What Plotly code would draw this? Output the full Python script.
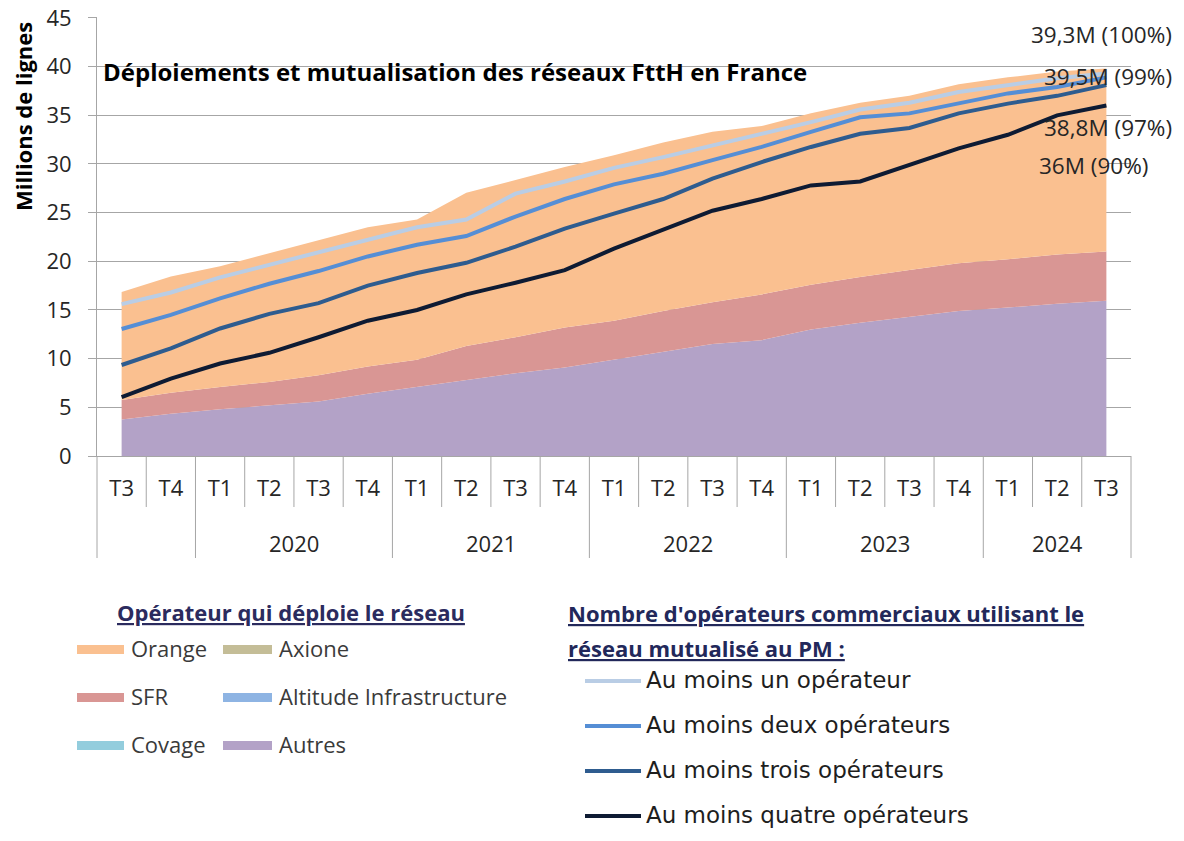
import plotly.graph_objects as go

# ---------------- data (millions de lignes) ----------------
quarters = ["T3", "T4", "T1", "T2", "T3", "T4", "T1", "T2", "T3", "T4",
            "T1", "T2", "T3", "T4", "T1", "T2", "T3", "T4", "T1", "T2", "T3"]
year_of_quarter = ["", "",
                   "2020", "2020", "2020", "2020",
                   "2021", "2021", "2021", "2021",
                   "2022", "2022", "2022", "2022",
                   "2023", "2023", "2023", "2023",
                   "2024", "2024", "2024"]

# Stacked deployment per operator (bottom to top)
autres = [3.75, 4.35, 4.8, 5.2, 5.6, 6.4, 7.1, 7.8, 8.5, 9.1, 9.9,
          10.75, 11.5, 11.9, 13.0, 13.7, 14.3, 14.9, 15.25, 15.65, 15.95]
sfr = [2.0, 2.15, 2.3, 2.4, 2.7, 2.8, 2.8, 3.5, 3.7, 4.1, 4.0,
       4.15, 4.3, 4.7, 4.6, 4.7, 4.8, 4.9, 4.95, 5.05, 5.05]
orange = [11.1, 11.95, 12.4, 13.25, 13.9, 14.3, 14.4, 15.75, 16.15, 16.5, 17.0,
          17.3, 17.5, 17.3, 17.6, 17.9, 17.9, 18.4, 18.7, 18.8, 18.8]

# Mutualisation lines
au_moins_un = [15.6, 16.8, 18.35, 19.65, 20.85, 22.2, 23.5, 24.3, 26.95, 28.2, 29.6,
               30.7, 31.9, 33.0, 34.3, 35.6, 36.3, 37.4, 38.1, 38.8, 39.3]
au_moins_deux = [13.05, 14.5, 16.2, 17.7, 19.0, 20.5, 21.7, 22.6, 24.6, 26.4, 27.9,
                 29.0, 30.4, 31.75, 33.3, 34.8, 35.2, 36.2, 37.25, 37.9, 38.9]
au_moins_trois = [9.35, 11.05, 13.1, 14.6, 15.7, 17.5, 18.8, 19.85, 21.5, 23.35, 24.9,
                  26.4, 28.5, 30.2, 31.75, 33.1, 33.7, 35.2, 36.2, 37.0, 38.1]
au_moins_quatre = [6.05, 7.95, 9.5, 10.6, 12.2, 13.9, 15.0, 16.6, 17.8, 19.1, 21.3,
                   23.3, 25.2, 26.4, 27.8, 28.2, 29.9, 31.6, 33.0, 35.0, 36.0]

end_labels = ["39,3M (100%)", "39,5M (99%)", "38,8M (97%)", "36M (90%)"]

title_text = "Déploiements et mutualisation des réseaux FttH en France"
y_title = "Millions de lignes"

legend1_title = "Opérateur qui déploie le réseau"
legend1_items = ["Orange", "SFR", "Covage", "Axione", "Altitude Infrastructure", "Autres"]
legend2_title = ["Nombre d'opérateurs commerciaux utilisant le", "réseau mutualisé au PM :"]
legend2_items = ["Au moins un opérateur", "Au moins deux opérateurs",
                 "Au moins trois opérateurs", "Au moins quatre opérateurs"]

# ---------------- styling ----------------
C_ORANGE = "#FAC090"
C_SFR = "#D99694"
C_COVAGE = "#93CDDD"
C_AXIONE = "#C4BD97"
C_ALTITUDE = "#8EB4E3"
C_AUTRES = "#B3A2C7"
legend1_colors = [C_ORANGE, C_SFR, C_COVAGE, C_AXIONE, C_ALTITUDE, C_AUTRES]

L_UN = "#B9CDE5"
L_DEUX = "#558ED5"
L_TROIS = "#2E5C8F"
L_QUATRE = "#0E1B33"
legend2_colors = [L_UN, L_DEUX, L_TROIS, L_QUATRE]

GRID = "#A6A6A6"
TXT = "#262626"
FONT = "Open Sans"
FONT_B = "Open Sans"

Y_MAX = 45
Y_PAD = 0.1   # tiny headroom so the top gridline (45) is drawn

# figure fills the whole 1184x841 page (body margin removed in post_script)
W, H = 1184, 841
PLOT_L, PLOT_R, PLOT_B = 97, 1131, 456          # in page pixels
UNIT = (456 - 18) / Y_MAX                        # px per million
PLOT_T = PLOT_B - UNIT * (Y_MAX + Y_PAD)
ML, MR = PLOT_L, W - PLOT_R
MT, MB = PLOT_T, H - PLOT_B
PW = PLOT_R - PLOT_L
PH = PLOT_B - PLOT_T


def px(x):
    return (x - PLOT_L) / PW


def py(y):
    return (PLOT_B - y) / PH


n = len(quarters)
x = list(range(n))

fig = go.Figure()

for name, vals, col in [("Autres", autres, C_AUTRES), ("SFR", sfr, C_SFR), ("Orange", orange, C_ORANGE)]:
    fig.add_trace(go.Scatter(x=x, y=vals, name=name, stackgroup="ops", mode="lines",
                             line=dict(width=0, color=col), fillcolor=col, showlegend=False))

for name, vals, col in zip(legend2_items,
                           [au_moins_un, au_moins_deux, au_moins_trois, au_moins_quatre],
                           legend2_colors):
    fig.add_trace(go.Scatter(x=x, y=vals, name=name, mode="lines",
                             line=dict(width=4, color=col), showlegend=False))

shapes = []
annotations = []

# category separators and year group separators
bounds = set()
for i in range(n + 1):
    if i == 0 or i == n or year_of_quarter[i] != year_of_quarter[i - 1]:
        bounds.add(i)
for i in range(n + 1):
    xp = i / n
    y1 = py(558) if i in bounds else py(507)
    shapes.append(dict(type="line", xref="paper", yref="paper", x0=xp, x1=xp, y0=0, y1=y1,
                       line=dict(color=GRID, width=1)))

# year labels
start = 0
for i in range(1, n + 1):
    if i == n or year_of_quarter[i] != year_of_quarter[start]:
        if year_of_quarter[start]:
            annotations.append(dict(text=year_of_quarter[start], xref="x", yref="paper",
                                    x=(start + i - 1) / 2, y=py(543), showarrow=False,
                                    xanchor="center", yanchor="middle",
                                    font=dict(family=FONT, size=22, color=TXT)))
        start = i

# chart title
annotations.append(dict(text="<b>" + title_text + "</b>", xref="paper", yref="paper",
                        x=px(101), y=py(72), xanchor="left", yanchor="middle", showarrow=False,
                        font=dict(family=FONT_B, size=24, color="#000000")))
# y axis title
annotations.append(dict(text="<b>" + y_title + "</b>", xref="paper", yref="paper",
                        x=px(23), y=py(117), xanchor="center", yanchor="middle", showarrow=False,
                        textangle=-90, font=dict(family=FONT_B, size=22, color="#000000")))

# end labels
for txt, (xr, yc) in zip(end_labels, [(1174, 35), (1174, 77), (1174, 128), (1150, 166)]):
    annotations.append(dict(text=txt, xref="paper", yref="paper", x=px(xr), y=py(yc),
                            xanchor="right", yanchor="middle", showarrow=False,
                            font=dict(family=FONT, size=22.5, color=TXT)))

# legend 1
annotations.append(dict(text="<b><u>" + legend1_title + "</u></b>", xref="paper", yref="paper",
                        x=px(291), y=py(612), xanchor="center", yanchor="middle", showarrow=False,
                        font=dict(family=FONT_B, size=22, color="#2B2B5E")))
rows_y = [649, 697, 745]
for k, (lab, col) in enumerate(zip(legend1_items, legend1_colors)):
    col_i, row_i = divmod(k, 3)
    sx0, sx1, tx = (77, 124, 129) if col_i == 0 else (223, 272, 277)
    yc = rows_y[row_i]
    shapes.append(dict(type="rect", xref="paper", yref="paper", x0=px(sx0), x1=px(sx1),
                       y0=py(yc + 5), y1=py(yc - 4), fillcolor=col, line=dict(width=0)))
    annotations.append(dict(text=lab, xref="paper", yref="paper", x=px(tx), y=py(yc - 1),
                            xanchor="left", yanchor="middle", showarrow=False,
                            font=dict(family=FONT, size=22, color="#3A3A3A")))

# legend 2
for j, line in enumerate(legend2_title):
    annotations.append(dict(text="<b><u>" + line + "</u></b>", xref="paper", yref="paper",
                            x=px(566), y=py(613 + 35 * j), xanchor="left", yanchor="middle",
                            showarrow=False, font=dict(family=FONT_B, size=22, color="#22285A")))
rows2_y = [681, 726, 771, 816]
for lab, col, yc in zip(legend2_items, legend2_colors, rows2_y):
    shapes.append(dict(type="line", xref="paper", yref="paper", x0=px(585), x1=px(641),
                       y0=py(yc), y1=py(yc), line=dict(color=col, width=4)))
    annotations.append(dict(text=lab, xref="paper", yref="paper", x=px(644), y=py(yc - 1),
                            xanchor="left", yanchor="middle", showarrow=False,
                            font=dict(family="DejaVu Sans", size=23, color="#1E1E1E")))

fig.update_layout(
    width=W, height=H,
    margin=dict(l=ML, r=MR, t=MT, b=MB, pad=0, autoexpand=False),
    paper_bgcolor="white", plot_bgcolor="white",
    showlegend=False,
    font=dict(family=FONT, size=22, color=TXT),
    xaxis=dict(range=[-0.5, n - 0.5], tickmode="array", tickvals=x, ticktext=quarters,
               showgrid=False, zeroline=False, showline=True, linecolor=GRID, linewidth=1,
               ticks="", ticklabelstandoff=13, tickfont=dict(family=FONT, size=22, color=TXT),
               ticklabeloverflow="allow", automargin=False, fixedrange=True),
    yaxis=dict(range=[0, Y_MAX + Y_PAD], tick0=0, dtick=5, showgrid=True, gridcolor=GRID,
               gridwidth=1, zeroline=False, showline=True, linecolor=GRID, linewidth=1,
               ticks="outside", ticklen=8, tickcolor=GRID, ticklabelstandoff=12,
               tickfont=dict(family=FONT, size=22, color=TXT), ticklabeloverflow="allow",
               automargin=False, fixedrange=True),
    shapes=shapes,
    annotations=annotations,
)

fig.write_html("out.html",
               config=dict(displayModeBar=False, staticPlot=True),
               post_script="document.body.style.margin='0';document.body.style.overflow='hidden';")
